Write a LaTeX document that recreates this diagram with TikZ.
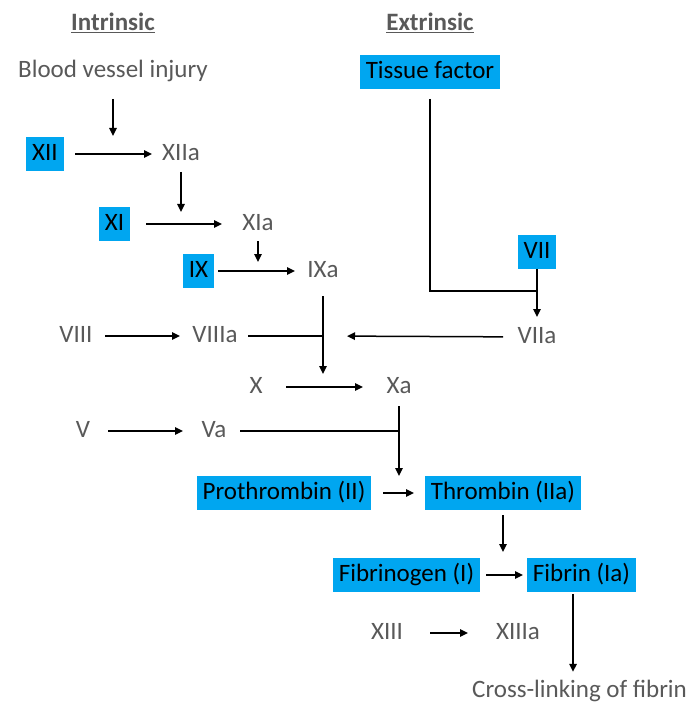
\documentclass[tikz,border=0pt]{standalone}
\usepackage{fontspec}
\setmainfont{Carlito}
\usepackage{xcolor}
\usetikzlibrary{arrows.meta, positioning, calc}
\definecolor{factblue}{HTML}{00A6F0}
\definecolor{txtgray}{HTML}{595959}
\tikzset{
    fac/.style={text=txtgray, font=\fontsize{25}{30}\selectfont, inner xsep=0pt, inner ysep=4.5pt,
                text height=18.5pt, text depth=6pt},
    facbox/.style={fac, fill=factblue, text=black, inner xsep=6pt},
    hdr/.style={fac, font=\fontsize{25}{30}\selectfont\bfseries},
    arr/.style={-{Triangle[length=8pt, width=7.5pt]}, line width=1.5pt},
    lin/.style={line width=1.5pt}
}
\begin{document}
\begin{tikzpicture}[x=1pt, y=-1pt, on grid]
        \path[use as bounding box, fill=white] (0,0) rectangle (692,703);
        % headings and starting points
        \node[hdr] (intr) at (113,24) {\underline{Intrinsic}};
        \node[hdr, right=317pt of intr] (extr) {\underline{Extrinsic}};
        \node[fac, below=47pt of intr] (injury) {Blood vessel injury};
        \node[facbox, below=48pt of extr] (tf) {Tissue factor};
        % intrinsic cascade
        \node[facbox, below left=83pt and 68pt of injury] (xii) {XII};
        \node[fac, right=136pt of xii] (xiia) {XIIa};
        \node[facbox, below left=70pt and 66.5pt of xiia] (xi) {XI};
        \node[fac, right=143.5pt of xi] (xia) {XIa};
        \node[facbox, below left=47pt and 59.5pt of xia] (ix) {IX};
        \node[fac, right=124.5pt of ix] (ixa) {IXa};
        % extrinsic
        \node[facbox, below right=180pt and 107pt of tf] (vii) {VII};
        \node[fac, below=85pt of vii] (viia) {VIIa};
        % common pathway
        \node[fac, below left=65pt and 108pt of ixa] (viiia) {VIIIa};
        \node[fac, left=139pt of viiia] (viii) {VIII};
        \node[fac, below right=51pt and 41pt of viiia] (x) {X};
        \node[fac, right=143pt of x] (xa) {Xa};
        \node[fac, below left=44pt and 185pt of xa] (va) {Va};
        \node[fac, left=131pt of va] (v) {V};
        \node[facbox, below left=106pt and 115pt of xa] (pro) {Prothrombin (II)};
        \node[facbox, right=219pt of pro] (thr) {Thrombin (IIa)};
        \node[facbox, below left=82pt and 96.5pt of thr] (fbg) {Fibrinogen (I)};
        \node[facbox, right=175pt of fbg] (fbn) {Fibrin (Ia)};
        \node[fac, below left=58pt and 19.5pt of fbg] (xiii) {XIII};
        \node[fac, right=131pt of xiii] (xiiia) {XIIIa};
        \node[fac, anchor=base west] (cross) at (472,697) {Cross-linking of fibrin};
        % junctions
        \coordinate (j1) at (injury |- xii);
        \coordinate (j2) at (xiia |- xi);
        \coordinate (j3) at (xia |- ix);
        \coordinate (j4) at (ixa |- x);
        \coordinate (j5) at (ixa |- viiia);
        \coordinate (j6) at (xa |- va);
        \coordinate (j7) at (xa |- pro);
        \coordinate (j8) at (thr |- fbn);
        \coordinate (tfj) at ($(vii)!0.46!(viia)$);
        % connectors
        \draw[arr, shorten <=28pt, shorten >=18pt] (injury.center) -- (j1);
        \draw[arr, shorten <=30pt, shorten >=29pt] (xii.center) -- (xiia.center);
        \draw[arr, shorten <=18pt, shorten >=12pt] (xiia.center) -- (j2);
        \draw[arr, shorten <=31.5pt, shorten >=36pt] (xi.center) -- (xia.center);
        \draw[arr, shorten <=17pt, shorten >=9pt] (xia.center) -- (j3);
        \draw[arr, shorten <=19.5pt, shorten >=28pt] (ix.center) -- (ixa.center);
        \draw[arr, shorten <=25pt, shorten >=13pt] (ixa.center) -- (j4);
        \draw[lin, shorten <=33pt] (viiia.center) -- (j5);
        \draw[arr, shorten <=34pt, shorten >=24pt] (viia.center) -- (j5);
        \draw[arr, shorten <=29pt, shorten >=35pt] (viii.center) -- (viiia.center);
        \draw[lin, shorten <=10pt] (tf) |- (tfj);
        \draw[arr, shorten >=20pt] (vii) -- (viia.center);
        \draw[arr, shorten <=30pt, shorten >=36pt] (x.center) -- (xa.center);
        \draw[arr, shorten <=19pt, shorten >=17pt] (xa.center) -- (j7);
        \draw[lin, shorten <=26pt] (va.center) -- (j6);
        \draw[arr, shorten <=25pt, shorten >=31pt] (v.center) -- (va.center);
        \draw[arr, shorten <=99pt, shorten >=89pt] (pro.center) -- (thr.center);
        \draw[arr, shorten <=22pt, shorten >=23pt] (thr.center) -- (j8);
        \draw[arr, shorten <=79.5pt, shorten >=58.5pt] (fbg.center) -- (fbn.center);
        \draw[arr, shorten <=2pt, shorten >=2pt] ([xshift=-8.5pt]fbn.south) -- ([xshift=-8.5pt]fbn.south |- cross.north);
        \draw[arr, shorten <=43pt, shorten >=50pt] (xiii.center) -- (xiiia.center);
    \end{tikzpicture}
\end{document}
